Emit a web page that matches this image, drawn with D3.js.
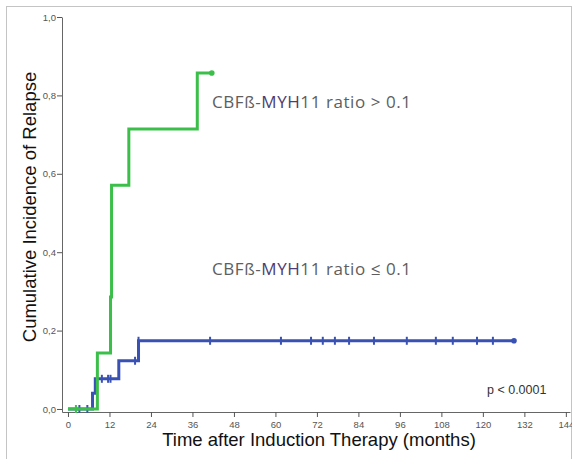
<!DOCTYPE html>
<html>
<head>
<meta charset="utf-8">
<script src="https://cdn.jsdelivr.net/npm/d3@7"></script>
<style>
  body { margin: 0; background: #fff; }
  svg { display: block; }
</style>
</head>
<body>
<div id="chart"></div>
<script>
// data
const xTicks = [0, 12, 24, 36, 48, 60, 72, 84, 96, 108, 120, 132, 144];
const yTicks = [0, 0.2, 0.4, 0.6, 0.8, 1.0];

// ratio > 0.1 (green)
const highTimes = [0, 8.5, 12.3, 12.6, 17.6, 37.4, 41.6];
const highValues = [0, 0.143, 0.286, 0.571, 0.714, 0.857, 0.857];
const highCensored = [2.3];
const highEnd = 41.6;

// ratio <= 0.1 (blue)
const lowTimes = [0, 7.1, 7.9, 14.7, 20.4, 129];
const lowValues = [0, 0.04, 0.077, 0.123, 0.174, 0.174];
const lowCensored = [3.3, 5.6, 9.8, 11.6, 12.3, 19.4, 20.4, 41.1, 61.6, 70.3, 73.7, 77.2,
  81.3, 88.5, 98.0, 106.4, 111.3, 118.3, 122.9];
const lowEnd = 129;

const width = 572;
const height = 459;

const green = "#3cbf4a";
const blue = "#3a51b4";

/** SCALES */
const xScale = d3.scaleLinear()
  .domain([-1.73, 145.2])
  .range([62, 570]);

const yScale = d3.scaleLinear()
  .domain([-0.0077, 1.0])
  .range([412, 17]);

const svg = d3.select("#chart")
  .append("svg")
  .attr("width", width)
  .attr("height", height)
  .style("font-family", "Arial, 'Liberation Sans', sans-serif");

// light frame round the figure
svg.append("rect")
  .attr("x", 6.5)
  .attr("y", 6.5)
  .attr("width", 565)
  .attr("height", 470)
  .attr("fill", "none")
  .attr("stroke", "#c4c4c4");

/** AXES */
const xAxis = d3.axisBottom(xScale)
  .tickValues(xTicks)
  .tickSize(5)
  .tickSizeOuter(0)
  .tickFormat(d3.format("d"));

const yAxis = d3.axisLeft(yScale)
  .tickValues(yTicks)
  .tickSize(5)
  .tickSizeOuter(0)
  .tickFormat(d => d3.format(".1f")(d).replace(".", ","));

const gx = svg.append("g")
  .attr("transform", `translate(0,${yScale.range()[0]})`)
  .call(xAxis);

const gy = svg.append("g")
  .attr("transform", `translate(${xScale.range()[0]},0)`)
  .call(yAxis);

[gx, gy].forEach(g => {
  g.select(".domain").attr("stroke", "#666");
  g.selectAll(".tick line").attr("stroke", "#555");
  g.selectAll(".tick text")
    .attr("fill", "#555")
    .style("font-size", "9.5px")
    .style("font-family", "Arial, 'Liberation Sans', sans-serif");
});
gx.selectAll(".tick text").attr("dy", "0.95em").attr("y", 7);
gy.selectAll(".tick text").attr("x", -6);

// axis titles
svg.append("text")
  .attr("x", 319)
  .attr("y", 446)
  .attr("text-anchor", "middle")
  .attr("fill", "#111")
  .style("font-size", "18.5px")
  .text("Time after Induction Therapy (months)");

svg.append("text")
  .attr("transform", "translate(36,207) rotate(-90)")
  .attr("text-anchor", "middle")
  .attr("fill", "#111")
  .style("font-size", "18.5px")
  .text("Cumulative Incidence of Relapse");

/** CURVES */
const stepLine = d3.line()
  .x(d => xScale(d[0]))
  .y(d => yScale(d[1]))
  .curve(d3.curveStepAfter);

function valueAt(times, values, t) {
  const i = d3.bisectRight(times, t) - 1;
  return values[Math.max(0, i)];
}

function drawCurve(times, values, censored, end, color) {
  const g = svg.append("g");
  g.append("path")
    .datum(times.map((t, i) => [t, values[i]]))
    .attr("d", stepLine)
    .attr("fill", "none")
    .attr("stroke", color)
    .attr("stroke-width", 3);

  g.selectAll("line.censor")
    .data(censored)
    .join("line")
    .attr("class", "censor")
    .attr("x1", d => xScale(d))
    .attr("x2", d => xScale(d))
    .attr("y1", d => yScale(valueAt(times, values, d)) - 4)
    .attr("y2", d => yScale(valueAt(times, values, d)) + 4)
    .attr("stroke", color)
    .attr("stroke-width", 2);

  g.append("circle")
    .attr("cx", xScale(end))
    .attr("cy", yScale(valueAt(times, values, end)))
    .attr("r", 2.8)
    .attr("fill", color);
}

drawCurve(lowTimes, lowValues, lowCensored, lowEnd, blue);
drawCurve(highTimes, highValues, highCensored, highEnd, green);

/** LABELS */
function groupLabel(y, sign) {
  const t = svg.append("text")
    .attr("x", 212)
    .attr("y", y)
    .attr("fill", "#5e5e5e")
    .attr("textLength", 199)
    .style("font-family", "'Open Sans', 'Noto Sans', sans-serif")
    .style("font-size", "17px");
  t.append("tspan").text("CBFß-");
  t.append("tspan").attr("fill", "#4e3c72").text("MYH");
  t.append("tspan").text(`11 ratio ${sign} 0.1`);
}
groupLabel(108, ">");
groupLabel(275, "≤");

svg.append("text")
  .attr("x", 487)
  .attr("y", 394)
  .attr("fill", "#333")
  .style("font-size", "12.5px")
  .text("p < 0.0001");
</script>
</body>
</html>
